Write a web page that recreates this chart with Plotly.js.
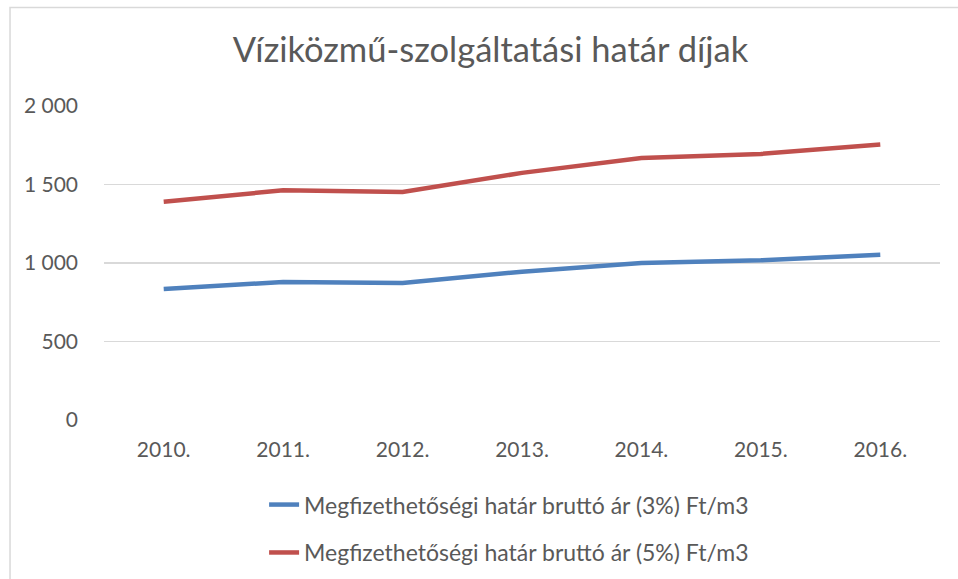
<!DOCTYPE html>
<html>
<head>
<meta charset="utf-8">
<script src="https://cdn.plot.ly/plotly-3.0.1.min.js"></script>
<style>html,body{margin:0;padding:0;background:#fff;}#chart{width:958px;height:579px;}</style>
</head>
<body>
<div id="chart"></div>
<script>
const categories = ["2010.", "2011.", "2012.", "2013.", "2014.", "2015.", "2016."];
const series3Name = "Megfizethetőségi határ bruttó ár (3%) Ft/m3";
const series3Values = [834, 879, 872, 945, 1000, 1017, 1053];
const series5Name = "Megfizethetőségi határ bruttó ár (5%) Ft/m3";
const series5Values = [1390, 1463, 1452, 1574, 1668, 1695, 1755];
const yTickValues = [0, 500, 1000, 1500, 2000];
const yTickLabels = ["0", "500", "1 000", "1 500", "2 000"];
const chartTitle = "Víziközmű-szolgáltatási határ díjak";

const FONT = "Lato, 'Open Sans', sans-serif";
const GREY = "#595959";

const traces = [
  {type: "scatter", mode: "lines", name: series3Name, x: categories, y: series3Values,
   line: {color: "#4F81BD", width: 4.5}, legendgroup: "a"},
  {type: "scatter", mode: "lines", name: series5Name, x: categories, y: series5Values,
   line: {color: "#C0504D", width: 4.5}, legendgroup: "b"}
];

const layout = {
  width: 958, height: 579,
  margin: {l: 104, r: 18, t: 106, b: 159, autoexpand: false},
  paper_bgcolor: "#ffffff", plot_bgcolor: "#ffffff",
  font: {family: FONT, color: GREY, size: 21},
  title: {text: chartTitle, font: {family: FONT, size: 34.5, color: GREY},
          xref: "container", x: 0.512, xanchor: "center",
          yref: "container", y: 0.913, yanchor: "middle"},
  xaxis: {type: "category", range: [-0.5, 6.5], showgrid: false, zeroline: false,
          showline: false, ticks: "", ticklabelstandoff: 15, automargin: false,
          tickfont: {family: FONT, size: 21, color: GREY}, fixedrange: true},
  yaxis: {range: [0, 2000], tickvals: yTickValues, ticktext: yTickLabels,
          showgrid: true, gridcolor: "#d9d9d9", gridwidth: 1.5, zeroline: false,
          showline: false, ticks: "", ticklabelstandoff: 25, automargin: false,
          tickfont: {family: FONT, size: 21, color: GREY}, fixedrange: true},
  showlegend: true,
  legend: {orientation: "v", x: 0.1915, xanchor: "left", y: -0.201, yanchor: "top",
           traceorder: "grouped", tracegroupgap: 15,
           font: {family: FONT, size: 23, color: GREY}, bgcolor: "rgba(0,0,0,0)"},
  shapes: [
    {type: "rect", xref: "paper", yref: "paper", x0: -0.1124, x1: 1.2, y0: -0.8, y1: 1.314,
     line: {color: "#d9d9d9", width: 1.5}, fillcolor: "rgba(0,0,0,0)", layer: "below"}
  ]
};

Plotly.newPlot("chart", traces, layout, {displayModeBar: false, staticPlot: true});
</script>
</body>
</html>
